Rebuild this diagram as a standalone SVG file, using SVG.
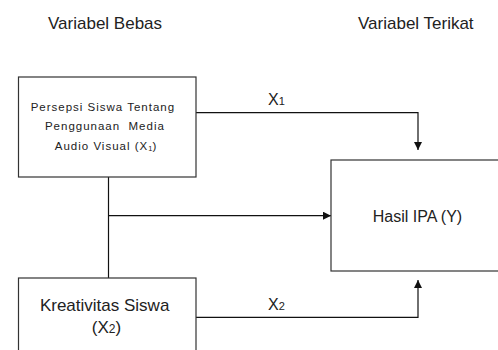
<svg xmlns="http://www.w3.org/2000/svg" width="498" height="350" viewBox="0 0 498 350">
<style>
.box{fill:#fff;stroke:#333;stroke-width:1.2}
.ln{fill:none;stroke:#111;stroke-width:1.2}
.t{font-family:"Liberation Sans",Arial,sans-serif;fill:#222}
</style>
<defs>
<marker id="ah" viewBox="0 0 10 10" refX="10" refY="5" markerWidth="9" markerHeight="8" markerUnits="userSpaceOnUse" orient="auto">
<path d="M0,0 L10,5 L0,10 Z" fill="#111"/>
</marker>
</defs>
<rect width="498" height="350" fill="#fff"/>
<text class="t" x="48" y="29" font-size="17">Variabel Bebas</text>
<text class="t" x="358" y="29" font-size="17">Variabel Terikat</text>
<g id="connectors">
<path class="ln" d="M196,112.7 H418 V150" marker-end="url(#ah)"/>
<path class="ln" d="M108.5,215.7 H331" marker-end="url(#ah)"/>
<path class="ln" d="M108.5,177 V278" stroke="#555"/>
<path class="ln" d="M196,317.3 H418 V280" marker-end="url(#ah)"/>
<text class="t" x="268" y="105" font-size="16">X<tspan font-size="11">1</tspan></text>
<text class="t" x="268" y="310" font-size="16">X<tspan font-size="11">2</tspan></text>
</g>
<g id="x1">
<rect class="box" x="18.5" y="77" width="177.5" height="100"/>
<text class="t" font-size="11.5" letter-spacing="1" text-anchor="middle">
<tspan x="105" y="110.5">Persepsi Siswa Tentang</tspan>
<tspan x="107" y="130">Penggunaan&#160; Media</tspan>
<tspan x="106" y="149.5">Audio Visual (X<tspan font-size="7.5" letter-spacing="0" dy="1.5">1</tspan><tspan dy="-1.5">)</tspan></tspan>
</text>
</g>
<g id="y">
<rect class="box" x="331" y="160" width="200" height="111"/>
<text class="t" x="372.7" y="221.7" font-size="16">Hasil IPA (Y)</text>
</g>
<g id="x2">
<rect class="box" x="18.5" y="278" width="177.5" height="100"/>
<text class="t" font-size="17" text-anchor="middle">
<tspan x="107" y="310.7">Kreativitas Siswa</tspan>
<tspan x="106.5" y="333.3">(X<tspan font-size="12">2</tspan>)</tspan>
</text>
</g>
</svg>
